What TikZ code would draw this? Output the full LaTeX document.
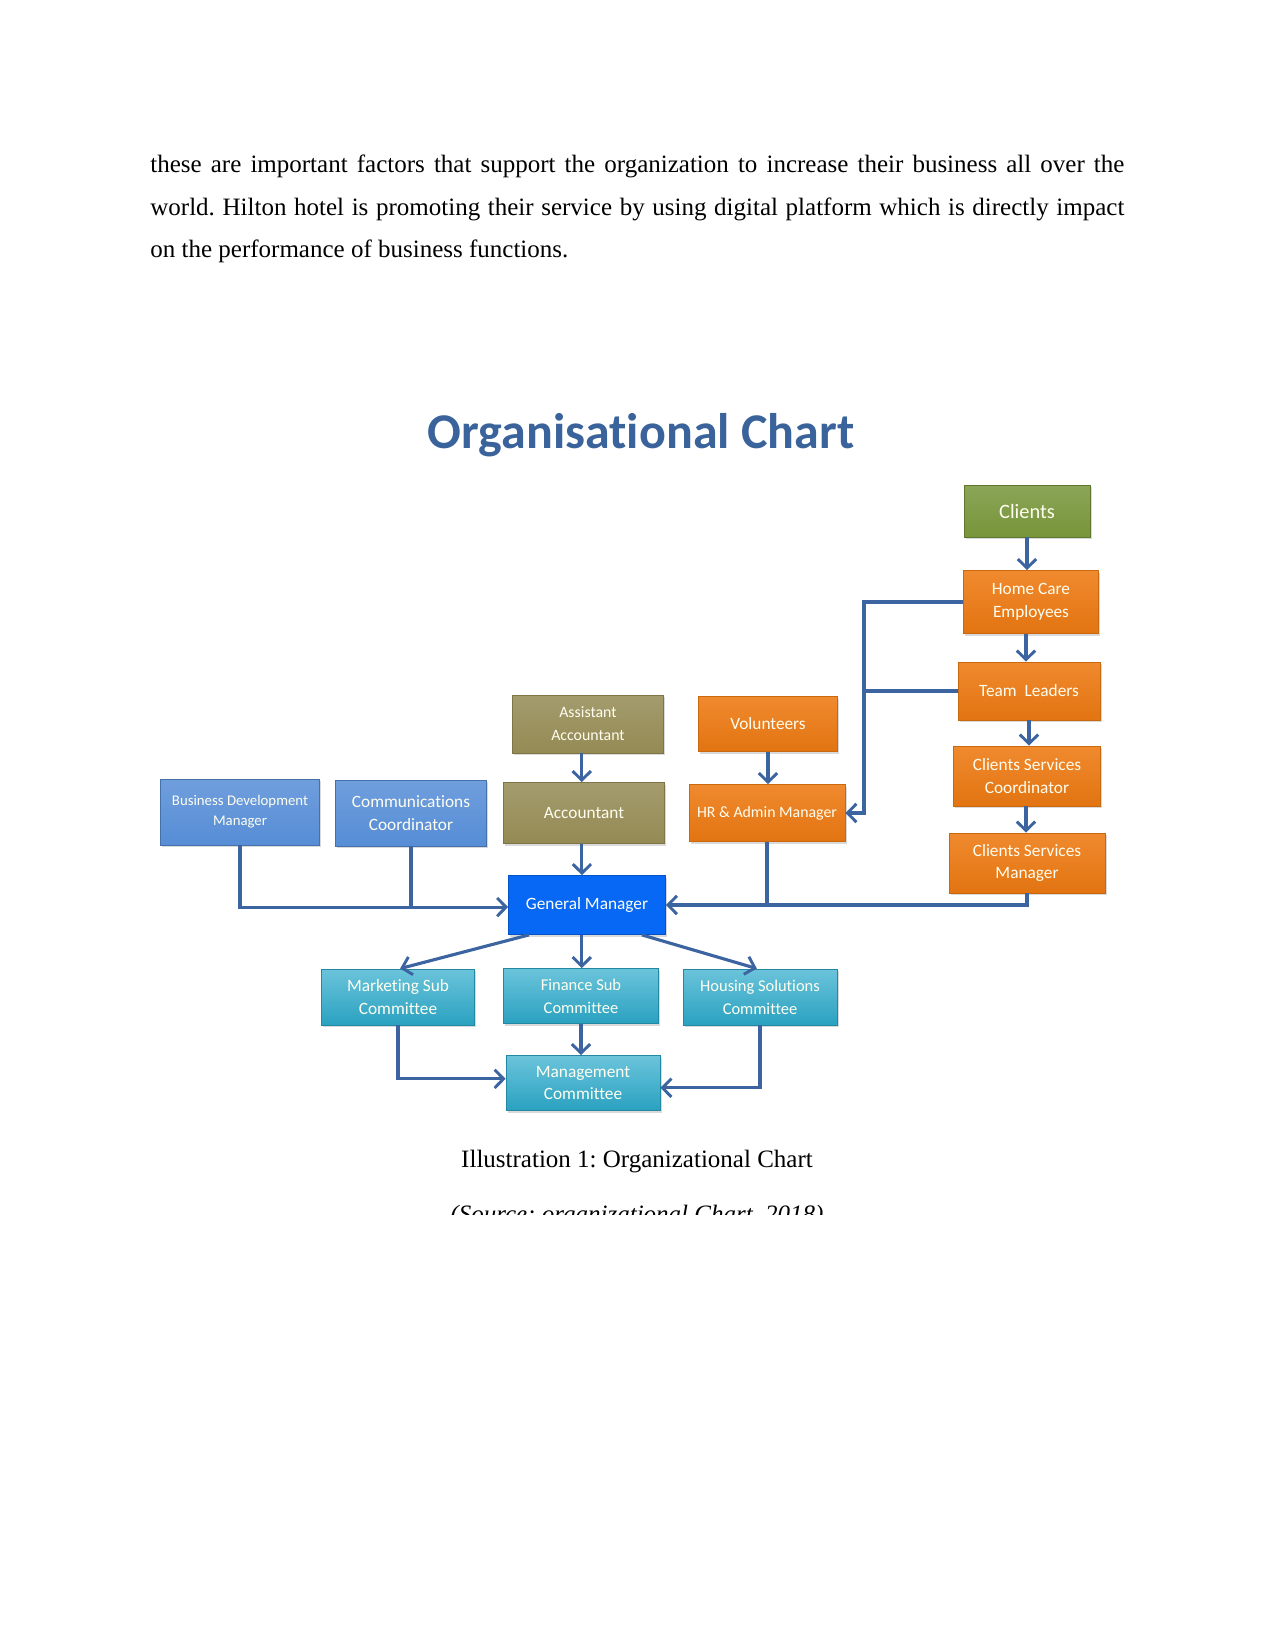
\documentclass[tikz,border=0pt]{standalone}
\usepackage{fontspec}
\setmainfont{Liberation Serif}
\newfontfamily\calfont[Ligatures={NoCommon,NoContextual}]{Carlito}
\usepackage{xcolor}
\usetikzlibrary{arrows.meta,shadows}

\definecolor{linkblue}{RGB}{60,100,160}
\definecolor{titleblue}{RGB}{59,99,155}
\definecolor{clientgreen}{RGB}{119,149,58}
\definecolor{careorange}{RGB}{238,122,18}
\definecolor{accolive}{RGB}{148,138,84}
\definecolor{staffblue}{RGB}{86,141,214}
\definecolor{gmblue}{RGB}{8,104,246}
\definecolor{committeeteal}{RGB}{44,170,203}

\begin{document}
\frenchspacing
\begin{tikzpicture}[
    x=0.48pt, y=-0.48pt,
    wh/.style 2 args={minimum width=#1*0.48pt, minimum height=#2*0.48pt},
    box/.style={rectangle, inner sep=1pt, align=center, text=white!94!yellow,
        font=\calfont\fontsize{8.3}{11}\selectfont,
        drop shadow={shadow xshift=0.8pt, shadow yshift=-1pt, opacity=0.3}},
    greenbox/.style={box, draw=clientgreen!80!black, top color=clientgreen!85!white, bottom color=clientgreen},
    orangebox/.style={box, draw=careorange!85!black, top color=careorange!88!white, bottom color=careorange!95!black},
    olivebox/.style={box, draw=accolive!85!black, top color=accolive!85!white, bottom color=accolive},
    staffbox/.style={box, draw=staffblue!80!black, top color=staffblue!85!white, bottom color=staffblue},
    gmbox/.style={box, draw=gmblue!80!black, fill=gmblue},
    tealbox/.style={box, draw=committeeteal!80!black, top color=committeeteal!70!white, bottom color=committeeteal!95!black},
    conn/.style={draw=linkblue, line width=1.5pt},
    arrow/.style={conn, -{Straight Barb[length=4.3pt, width=8.8pt, line width=1.4pt]}}
]
    \useasboundingbox (0,0) rectangle (1275,1650);

    % text of the page
    \node[anchor=base west, inner sep=0, text width=467.5pt, align=justify,
        font=\fontsize{12}{20.4}\selectfont] (para) at (150,173)
        {these are important factors that support the organization to increase their business all over the
         world. Hilton hotel is promoting their service by using digital platform which is directly impact\linebreak
         on the performance of business functions.};

    \node[font=\calfont\bfseries\fontsize{24}{28}\selectfont, text=titleblue] (title) at (641,435) {Organisational Chart};

    % client side
    \node[greenbox, wh={126}{52}, font=\calfont\fontsize{9.8}{12}\selectfont] (clients) at (1027,511) {Clients};
    \node[orangebox, wh={135}{63}] (hce) at (1031,602) {Home Care\\Employees};
    \node[orangebox, wh={142}{58}] (tl) at (1029,691) {Team\ \ Leaders};
    \node[orangebox, wh={147}{60}] (csc) at (1027,776) {Clients Services\\Coordinator};
    \node[orangebox, wh={156}{60}] (csm) at (1027,863) {Clients Services\\Manager};

    \node[orangebox, wh={139}{55}] (vol) at (768,724) {Volunteers};
    \node[orangebox, wh={156}{57}, font=\calfont\fontsize{7.6}{10}\selectfont] (hr) at (767,813) {HR \& Admin Manager};

    \node[olivebox, wh={151}{58}, font=\calfont\fontsize{7.6}{11}\selectfont] (aa) at (588,724) {Assistant\\Accountant};
    \node[olivebox, wh={161}{61}] (acc) at (584,813) {Accountant};

    \node[staffbox, wh={159}{66}, font=\calfont\fontsize{7.1}{9.5}\selectfont] (bdm) at (240,812) {Business Development\\Manager};
    \node[staffbox, wh={151}{66}] (cc) at (411,813) {Communications\\Coordinator};

    \node[gmbox, wh={157}{59}] (gm) at (587,905) {General Manager};

    % committees
    \node[tealbox, wh={153}{56}] (mkt) at (398,997) {Marketing Sub\\Committee};
    \node[tealbox, wh={155}{55}, font=\calfont\fontsize{7.9}{11}\selectfont] (fin) at (581,996) {Finance Sub\\Committee};
    \node[tealbox, wh={154}{56}, font=\calfont\fontsize{7.9}{11}\selectfont] (hsc) at (760,997) {Housing Solutions\\Committee};
    \node[tealbox, wh={154}{55}] (mgmt) at (583,1083) {Management\\Committee};

    \coordinate (rail) at (864,604);
    \coordinate (gmin) at ([yshift=-1pt]gm.west);

    \draw[arrow] (clients.south) -- (clients.south |- hce.north);
    \draw[arrow] ([xshift=-2.4pt]hce.south) -- ([xshift=-2.4pt]hce.south |- tl.north);
    \draw[arrow] (tl.south) -- (tl.south |- csc.north);
    \draw[arrow] ([xshift=-0.5pt]csc.south) -- ([xshift=-0.5pt]csc.south |- csm.north);

    \draw[arrow] (hce.west) -- (hce.west -| rail) |- (hr.east);
    \draw[conn] (tl.west) -- (tl.west -| rail);
    \draw[arrow] (vol.south) -- (vol.south |- hr.north);
    \draw[arrow] (csm.south) |- (gm.east);
    \draw[conn] (hr.south) -- (hr.south |- gm.east);

    \draw[arrow] ([xshift=-3pt]aa.south) -- ([xshift=-3pt]aa.south |- acc.north);
    \draw[arrow] ([xshift=-1pt]acc.south) -- ([xshift=-1pt]acc.south |- gm.north);
    \draw[arrow] (bdm.south) |- (gmin);
    \draw[conn] (cc.south) -- (cc.south |- gmin);

    \draw[arrow] ([xshift=10pt]gm.south west) -- ([xshift=1pt]mkt.north);
    \draw[arrow] ([xshift=-2.5pt]gm.south) -- ([xshift=-2.5pt]gm.south |- fin.north);
    \draw[arrow] ([xshift=-11.5pt]gm.south east) -- ([xshift=-1.5pt]hsc.north);

    \draw[arrow] (mkt.south) |- ([yshift=2pt]mgmt.west);
    \draw[arrow] (fin.south) -- (fin.south |- mgmt.north);
    \draw[arrow] (hsc.south) |- ([yshift=-2.3pt]mgmt.east);

    % caption, cut off at the bottom as in the page
    \node[anchor=base, font=\fontsize{12}{14}\selectfont] (caption) at (637,1167) {Illustration 1: Organizational Chart};
    \begin{scope}
        \clip (0,0) rectangle (1275,1214);
        \node[anchor=base, font=\itshape\fontsize{12}{14}\selectfont] (source) at (637,1222) {(Source: organizational Chart, 2018)};
    \end{scope}
\end{tikzpicture}
\end{document}
